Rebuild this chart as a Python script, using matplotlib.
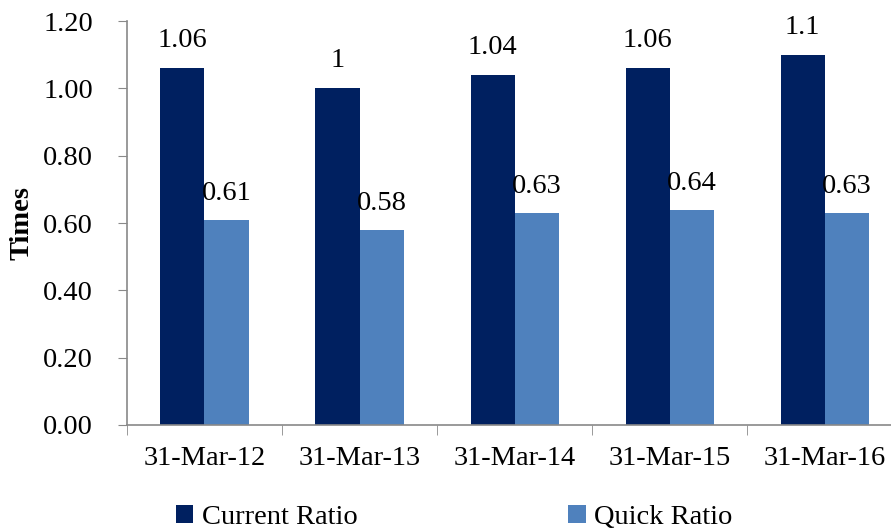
import numpy as np
import matplotlib.pyplot as plt

plt.rcParams['font.family'] = ['Liberation Serif', 'DejaVu Serif']

# Data
dates = ['31-Mar-12', '31-Mar-13', '31-Mar-14', '31-Mar-15', '31-Mar-16']
current_ratio = [1.06, 1.00, 1.04, 1.06, 1.10]
quick_ratio = [0.61, 0.58, 0.63, 0.64, 0.63]
current_labels = ['1.06', '1', '1.04', '1.06', '1.1']
quick_labels = ['0.61', '0.58', '0.63', '0.64', '0.63']

navy = '#002060'
blue = '#4F81BD'
grey = '#898989'
fs = 20.5

fig = plt.figure(figsize=(8.91, 5.29), dpi=100)
ax = fig.add_axes([0.1425, 0.1966, 0.87, 0.7634])

x = np.arange(len(dates))
w = 0.284
b1 = ax.bar(x - w / 2, current_ratio, w, color=navy, label='Current Ratio')
b2 = ax.bar(x + w / 2, quick_ratio, w, color=blue, label='Quick Ratio')

for rect, lab in zip(b1, current_labels):
    ax.annotate(lab, (rect.get_x() + rect.get_width() / 2, rect.get_height()),
                xytext=(0, 20), textcoords='offset points',
                ha='center', va='center', fontsize=fs)
for rect, lab in zip(b2, quick_labels):
    ax.annotate(lab, (rect.get_x() + rect.get_width() / 2, rect.get_height()),
                xytext=(0, 19), textcoords='offset points',
                ha='center', va='center', fontsize=fs)

ax.set_xlim(-0.5, len(dates) - 0.5)
ax.set_ylim(0, 1.2)
ax.set_yticks(np.arange(0, 1.21, 0.2))
ax.set_yticklabels(['%.2f' % v for v in np.arange(0, 1.21, 0.2)], fontsize=fs)
ax.set_xticks(x)
ax.set_xticklabels(dates, fontsize=fs)
ax.set_xticks(np.arange(-0.5, len(dates), 1), minor=True)
ax.tick_params(axis='x', which='major', length=0, pad=15)
ax.tick_params(axis='x', which='minor', length=7, color=grey)
ax.tick_params(axis='y', length=6.5, color=grey, pad=18)

for s in ['top', 'right']:
    ax.spines[s].set_visible(False)
for s in ['left', 'bottom']:
    ax.spines[s].set_color(grey)
    ax.spines[s].set_linewidth(1.2)

ax.set_ylabel('Times', fontsize=fs, fontweight='bold', labelpad=6)

fig.legend(handles=[b1, b2], labels=['Current Ratio', 'Quick Ratio'],
           loc='center left', bbox_to_anchor=(0.182, 0.022), ncol=2,
           frameon=False, fontsize=fs, handlelength=0.6, handleheight=0.6,
           handletextpad=0.3, columnspacing=7.4, borderpad=0)

fig.savefig('out.png', dpi=100)
